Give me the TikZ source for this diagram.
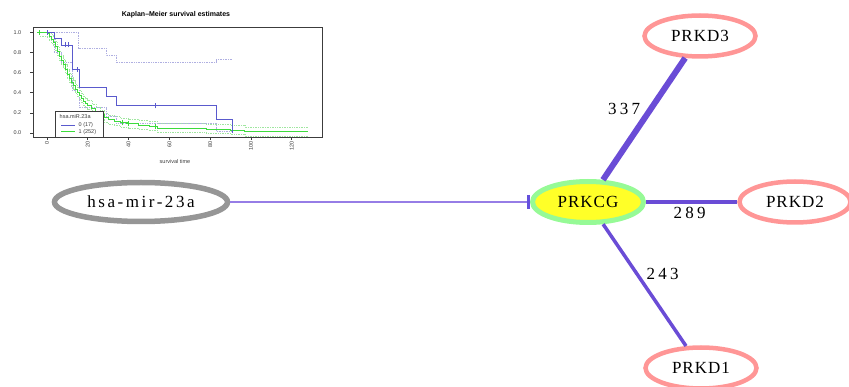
\documentclass[tikz,border=0pt]{standalone}
\usepackage{fontspec}
\setmainfont{Liberation Serif}
\newfontfamily\gnodefont{Liberation Serif}[LetterSpace=6]
\newfontfamily\mirfont{Liberation Serif}[LetterSpace=15]
\newfontfamily\numfont{Liberation Serif}[LetterSpace=19]
\newfontfamily\kmfont{Liberation Sans}
\usetikzlibrary{shapes.geometric,arrows.meta}
\definecolor{edgecol}{RGB}{106,76,214}
\definecolor{thincol}{RGB}{150,125,230}
\definecolor{barcol}{RGB}{100,80,220}
\definecolor{mirgray}{RGB}{150,150,150}
\definecolor{hubgreen}{RGB}{150,250,150}
\definecolor{hubyellow}{RGB}{255,255,40}
\definecolor{salmon}{RGB}{255,150,150}
\definecolor{kmblue}{RGB}{90,90,205}
\definecolor{kmgreen}{RGB}{60,220,60}
\definecolor{kmltblue}{RGB}{175,175,225}
\definecolor{kmltgreen}{RGB}{160,230,160}
\definecolor{kmtext}{RGB}{60,60,60}
\begin{document}
\begin{tikzpicture}[x=1pt,y=-1pt,
  mirnode/.style={ellipse, draw=mirgray, line width=5.5pt, fill=white, minimum width=173pt, minimum height=39pt, inner sep=0pt, font=\mirfont\fontsize{17}{20}\selectfont},
  hubnode/.style={ellipse, draw=hubgreen, line width=5pt, fill=hubyellow, minimum width=111pt, minimum height=41pt, inner sep=0pt, font=\gnodefont\fontsize{17}{20}\selectfont},
  prkd/.style={ellipse, draw=salmon, line width=4.5pt, fill=white, minimum width=111pt, minimum height=41pt, inner sep=0pt, font=\gnodefont\fontsize{17}{20}\selectfont},
  gedge/.style={draw=edgecol},
  inhib/.style={draw=thincol, line width=1.5pt, -{Bar[width=14pt,line width=3.5pt,color=barcol]}},
  elabel/.style={font=\numfont\fontsize{17}{20}\selectfont, inner sep=0pt},
  kmlab/.style={font=\kmfont\fontsize{5.5}{6}\selectfont, text=kmtext, inner sep=0.5pt},
  kmaxis/.style={draw=kmtext, line width=0.7pt},
  bluecurve/.style={draw=kmblue, line width=0.9pt},
  greencurve/.style={draw=kmgreen, line width=1pt},
  blueci/.style={draw=kmltblue, line width=0.7pt, densely dotted},
  greenci/.style={draw=kmltgreen, line width=0.7pt, densely dotted}
]
\useasboundingbox (0,0) rectangle (849,387);

% ---------- Kaplan-Meier plot ----------
\node[font=\kmfont\bfseries\fontsize{7}{8}\selectfont, inner sep=0pt] (kmtitle) at (176,15) {Kaplan–Meier survival estimates};
\node[kmlab] (kmxlab) at (175,162) {survival time};

\begin{scope}[shift={(47,133)}, x=2.04pt, y=100.6pt]
  % confidence bands
  \begin{scope}
    \clip (-6.9,-0.04) rectangle (134.8,1.0);
    \draw[greenci, yshift=5pt] plot[const plot] coordinates {(-3.5,1)(0,0.99)(1,0.96)(2,0.93)(3,0.9)(4,0.86)(5,0.81)(6,0.76)(7,0.72)(8,0.68)(9,0.63)(10,0.58)(11,0.54)(12,0.5)(13,0.47)(14,0.43)(15,0.4)(16,0.37)(17,0.34)(18,0.31)(19,0.29)(20,0.27)(22,0.24)(24,0.21)(26,0.18)(28,0.15)(30,0.13)(33,0.115)(36,0.1)(40,0.09)(45,0.075)(50,0.068)(54,0.045)(78,0.035)(90,0.025)(97,0.01)(128,0.01)};
    \draw[greenci, yshift=-4pt] plot[const plot] coordinates {(-3.5,1)(0,0.99)(1,0.96)(2,0.93)(3,0.9)(4,0.86)(5,0.81)(6,0.76)(7,0.72)(8,0.68)(9,0.63)(10,0.58)(11,0.54)(12,0.5)(13,0.47)(14,0.43)(15,0.4)(16,0.37)(17,0.34)(18,0.31)(19,0.29)(20,0.27)(22,0.24)(24,0.21)(26,0.18)(28,0.15)(30,0.13)(33,0.115)(36,0.1)(40,0.09)(45,0.075)(50,0.068)(54,0.045)(78,0.035)(90,0.025)(97,0.01)(128,0.01)};
  \end{scope}
  \draw[blueci] plot[const plot] coordinates {(0,1)(15.5,0.84)(29,0.77)(34,0.70)(83,0.73)(91,0.73)};
  \draw[blueci] plot[const plot] coordinates {(0,1)(3.5,0.8)(7,0.7)(12.6,0.42)(16,0.25)(29,0.17)(34,0.1)(83,0.02)(91,0.02)};
  % survival curves
  \draw[greencurve] plot[const plot] coordinates {(-3.5,1)(0,0.99)(1,0.96)(2,0.93)(3,0.9)(4,0.86)(5,0.81)(6,0.76)(7,0.72)(8,0.68)(9,0.63)(10,0.58)(11,0.54)(12,0.5)(13,0.47)(14,0.43)(15,0.4)(16,0.37)(17,0.34)(18,0.31)(19,0.29)(20,0.27)(22,0.24)(24,0.21)(26,0.18)(28,0.15)(30,0.13)(33,0.115)(36,0.1)(40,0.09)(45,0.075)(50,0.068)(54,0.045)(78,0.035)(90,0.025)(97,0.01)(128,0.01)};
  \draw[bluecurve] plot[const plot] coordinates {(0,1)(3.5,0.94)(7,0.875)(12.6,0.63)(16,0.455)(29,0.365)(34,0.27)(83,0.135)(91,0)};
  % censor marks
  \foreach \t/\s in {-3.5/1, 37/0.1, 40/0.09, 53/0.068}
    \draw[greencurve] (\t,\s) ++(0,-2.5pt) -- ++(0,5pt) (\t,\s) ++(-2.5pt,0) -- ++(5pt,0);
  \foreach \t/\s in {0/1, 9/0.875, 10.5/0.875, 15/0.63, 53/0.27}
    \draw[bluecurve] (\t,\s) ++(0,-2.5pt) -- ++(0,5pt);
  % axes box
  \draw[kmaxis] (-6.9,-0.04) rectangle (134.8,1.05);
  \foreach \v in {0.0,0.2,0.4,0.6,0.8,1.0} {
    \draw[kmaxis] (-6.9,\v) -- ++(-3pt,0);
    \node[kmlab, anchor=east] at (-12.3,\v) {\v};
  }
  \foreach \t in {0,20,40,60,80,100,120} {
    \draw[kmaxis] (\t,-0.04) -- ++(0,-3pt);
    \node[kmlab, rotate=90, anchor=east] at (\t,-0.075) {\t};
  }
\end{scope}
% legend
\draw[draw=kmtext, line width=0.7pt, fill=white] (55,111) rectangle (103,137);
\node[kmlab, anchor=west] (legtitle) at (59,117) {hsa.miR.23a};
\draw[bluecurve] (61,125) -- (75,125);
\node[kmlab, anchor=west] (leg0) at (78,125) {0 (17)};
\draw[greencurve] (61,132) -- (75,132);
\node[kmlab, anchor=west] (leg1) at (78,132) {1 (252)};

% ---------- network ----------
\node[mirnode] (mir) at (141,202) {hsa-mir-23a};
\node[hubnode] (prkcg) at (588,202) {PRKCG};
\node[prkd] (d3) at (700,36) {PRKD3};
\node[prkd] (d2) at (795,202) {PRKD2};
\node[prkd] (d1) at (701,368) {PRKD1};

\draw[inhib] (mir) -- (prkcg);
\draw[gedge, line width=6pt] (prkcg) -- node[elabel, xshift=-20pt, yshift=10pt] (l337) {337} (d3);
\draw[gedge, line width=4.5pt] (prkcg) -- node[elabel, xshift=-2pt, yshift=-11pt] (l289) {289} (d2);
\draw[gedge, line width=3.5pt] (prkcg) -- node[elabel, xshift=18pt, yshift=11pt] (l243) {243} (d1);
\end{tikzpicture}
\end{document}
